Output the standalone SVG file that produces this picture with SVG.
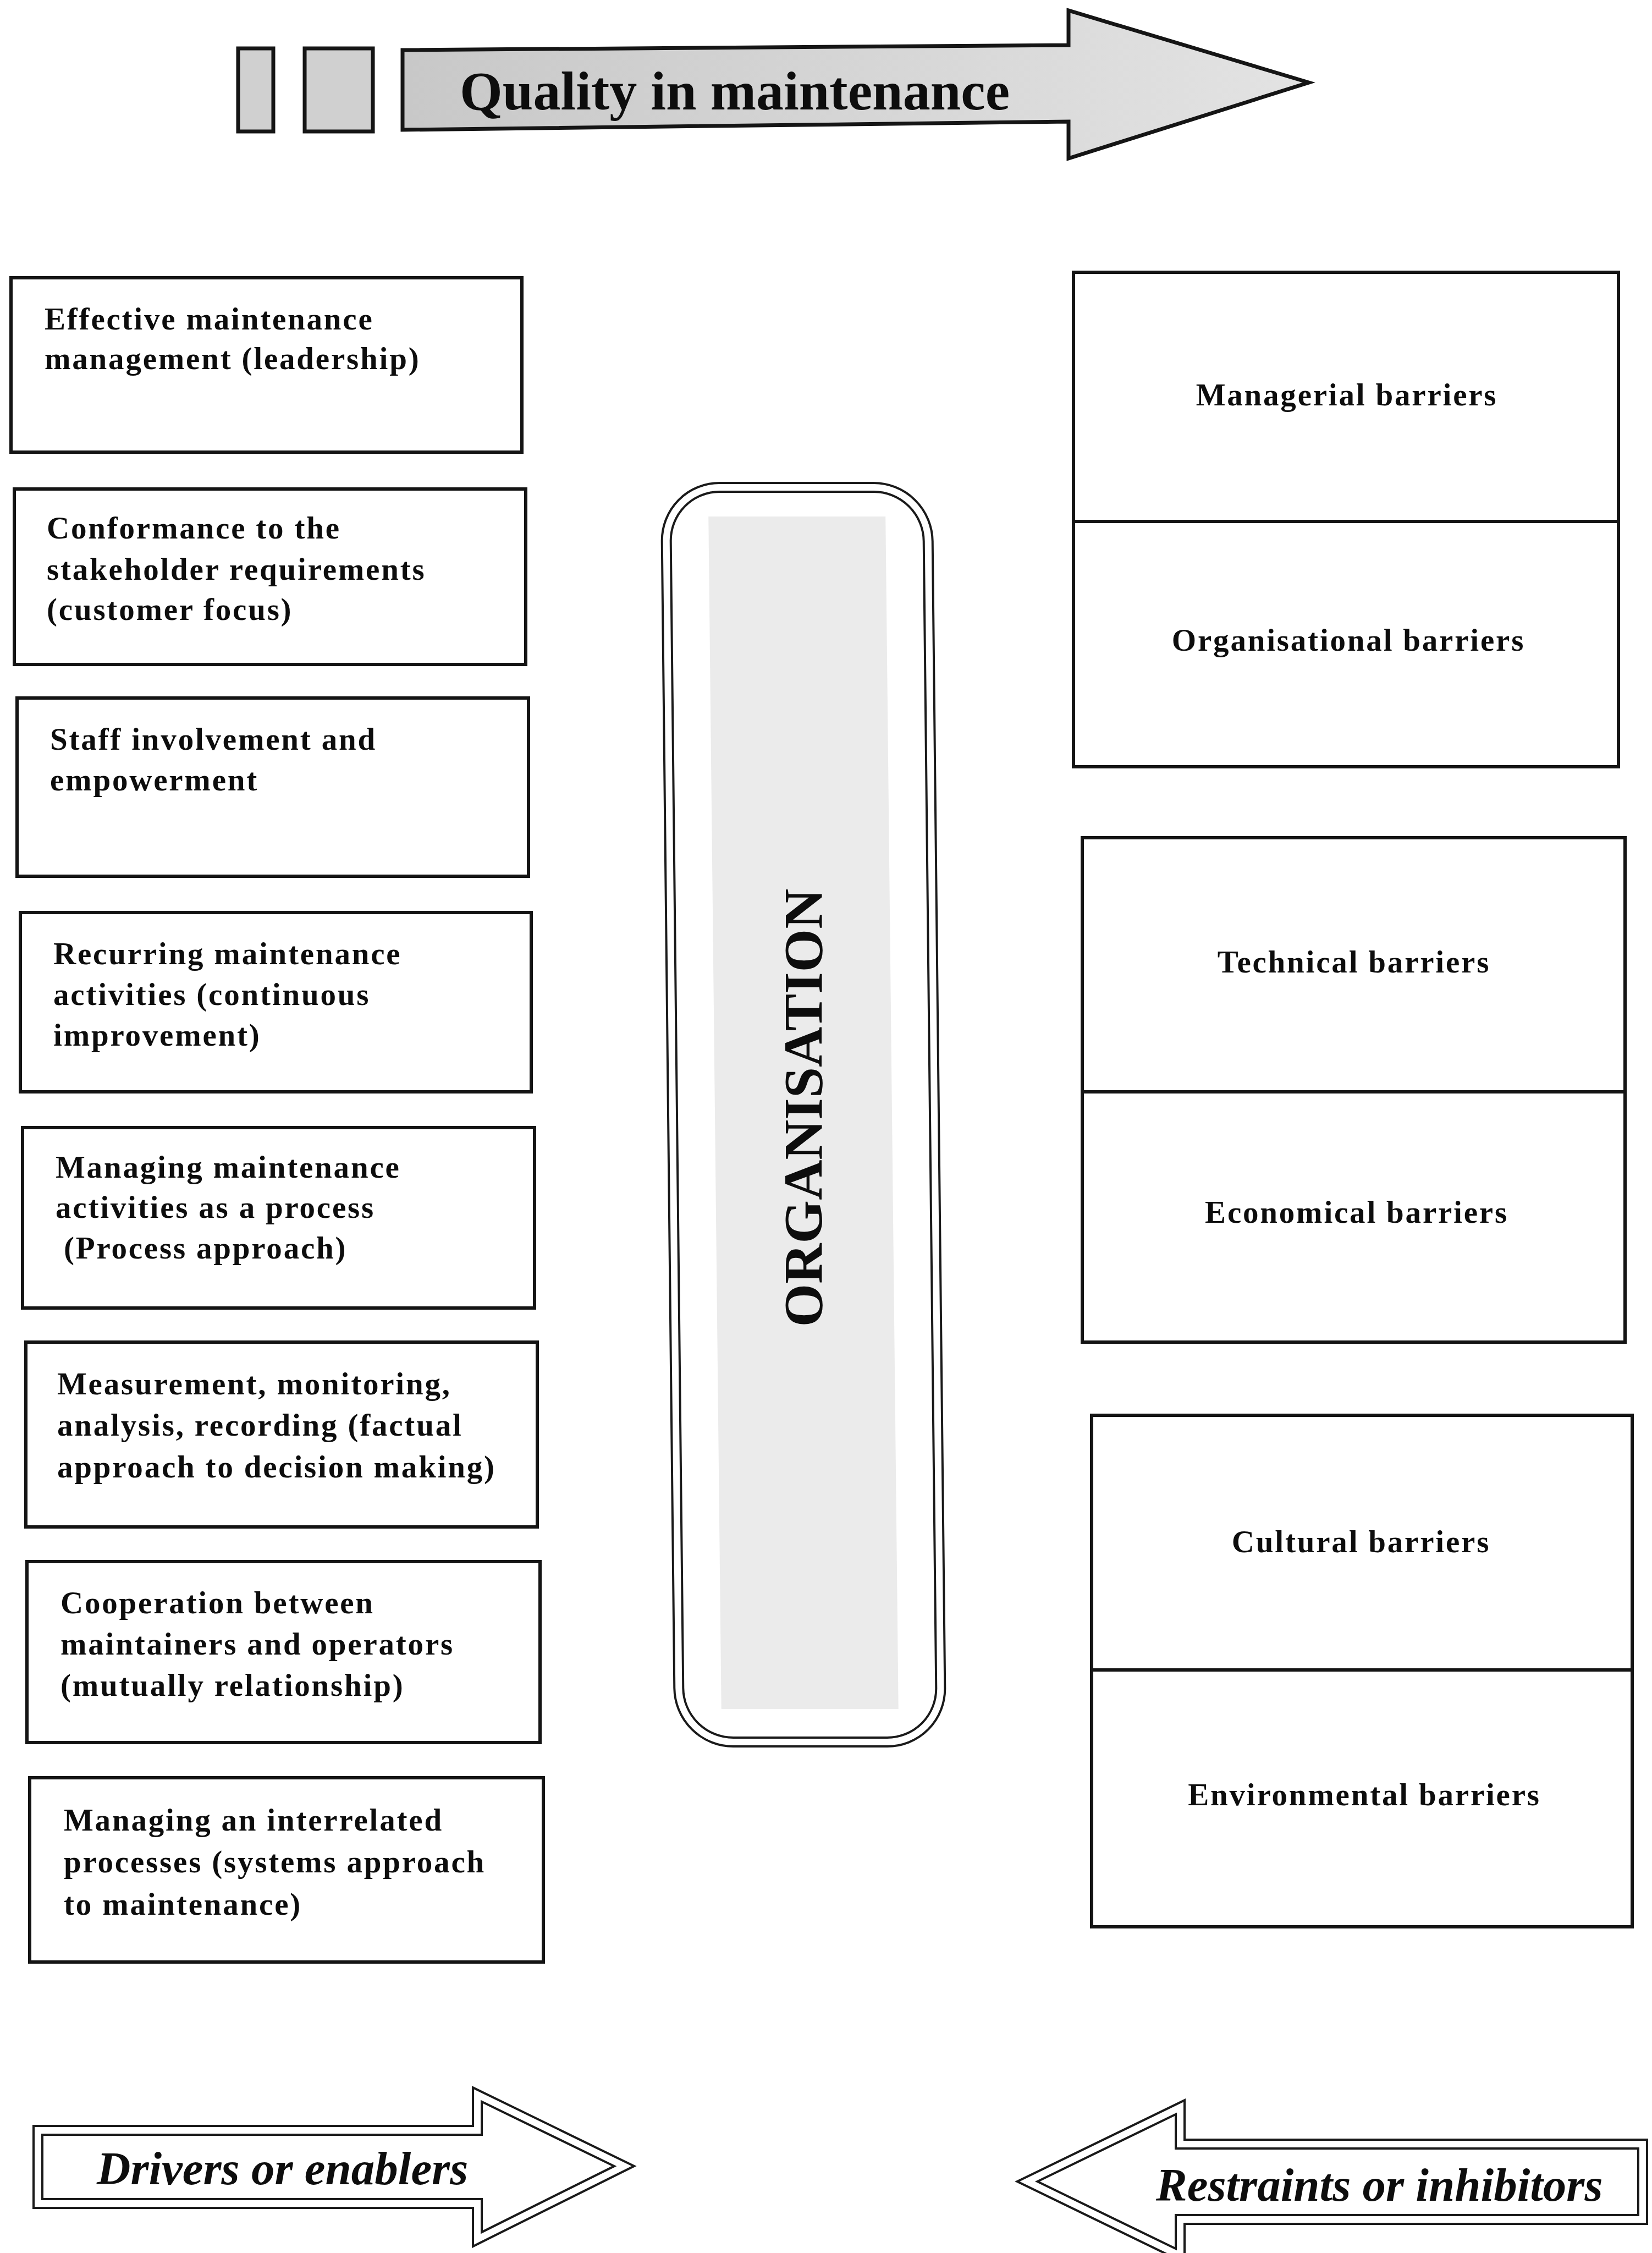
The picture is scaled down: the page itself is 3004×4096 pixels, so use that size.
<svg xmlns="http://www.w3.org/2000/svg" width="3004" height="4096" viewBox="0 0 3004 4096">
  <defs>
    <style>
      .box { fill: #ffffff; stroke: #141414; stroke-width: 6; }
      .rule { stroke: #141414; stroke-width: 6; }
      .lbl { font-family: "Liberation Serif", "Times New Roman", serif; font-weight: bold; font-size: 57px; letter-spacing: 2.8px; fill: #0d0d0d; }
      .mid { text-anchor: middle; }
      .dbl-out { fill: #ffffff; stroke: #1a1a1a; stroke-width: 20; stroke-linejoin: miter; }
      .dbl-in { fill: none; stroke: #ffffff; stroke-width: 12; stroke-linejoin: miter; }
      .banner { font-family: "Liberation Serif", "Times New Roman", serif; font-weight: bold; font-style: italic; font-size: 85px; fill: #0d0d0d; }
      .title { font-family: "Liberation Serif", "Times New Roman", serif; font-weight: bold; font-size: 100px; fill: #0d0d0d; }
      .grey-shape { stroke: #151515; stroke-width: 7; stroke-linejoin: miter; }
    </style>
    <linearGradient id="quality-fill" x1="0" y1="0" x2="1" y2="0">
      <stop offset="0" stop-color="#c8c8c8"/>
      <stop offset="1" stop-color="#e3e3e3"/>
    </linearGradient>
  </defs>

  <rect x="0" y="0" width="3004" height="4096" fill="#ffffff"/>

  <!-- Heading arrow: Quality in maintenance -->
  <g id="quality-arrow">
    <rect class="grey-shape" x="433" y="88" width="64" height="151" fill="#d0d0d0"/>
    <rect class="grey-shape" x="554" y="88" width="124" height="151" fill="#d0d0d0"/>
    <polygon class="grey-shape" fill="url(#quality-fill)" points="732,91 1943,82 1943,19 2380,150 1943,288 1943,221 732,236"/>
    <text class="title" x="836" y="199">Quality in maintenance</text>
  </g>

  <!-- Drivers / enablers column -->
  <g id="enabler-1">
    <rect class="box" x="20" y="505" width="929" height="317"/>
    <text class="lbl" x="81" y="599">Effective maintenance</text>
    <text class="lbl" x="81" y="671">management (leadership)</text>
  </g>
  <g id="enabler-2">
    <rect class="box" x="26" y="889" width="930" height="319"/>
    <text class="lbl" x="85" y="979">Conformance to the</text>
    <text class="lbl" x="85" y="1054">stakeholder requirements</text>
    <text class="lbl" x="85" y="1127">(customer focus)</text>
  </g>
  <g id="enabler-3">
    <rect class="box" x="31" y="1269" width="930" height="324"/>
    <text class="lbl" x="91" y="1363">Staff involvement and</text>
    <text class="lbl" x="91" y="1437">empowerment</text>
  </g>
  <g id="enabler-4">
    <rect class="box" x="37" y="1659" width="929" height="326"/>
    <text class="lbl" x="97" y="1753">Recurring maintenance</text>
    <text class="lbl" x="97" y="1827">activities (continuous</text>
    <text class="lbl" x="97" y="1901">improvement)</text>
  </g>
  <g id="enabler-5">
    <rect class="box" x="41" y="2050" width="931" height="328"/>
    <text class="lbl" x="101" y="2141">Managing maintenance</text>
    <text class="lbl" x="101" y="2214">activities as a process</text>
    <text class="lbl" x="116" y="2288">(Process approach)</text>
  </g>
  <g id="enabler-6">
    <rect class="box" x="47" y="2440" width="930" height="336"/>
    <text class="lbl" x="104" y="2535">Measurement, monitoring,</text>
    <text class="lbl" x="104" y="2610">analysis, recording (factual</text>
    <text class="lbl" x="104" y="2686">approach to decision making)</text>
  </g>
  <g id="enabler-7">
    <rect class="box" x="49" y="2839" width="933" height="329"/>
    <text class="lbl" x="110" y="2933">Cooperation between</text>
    <text class="lbl" x="110" y="3008">maintainers and operators</text>
    <text class="lbl" x="110" y="3083">(mutually relationship)</text>
  </g>
  <g id="enabler-8">
    <rect class="box" x="54" y="3232" width="934" height="335"/>
    <text class="lbl" x="116" y="3328">Managing an interrelated</text>
    <text class="lbl" x="116" y="3404">processes (systems approach</text>
    <text class="lbl" x="116" y="3481">to maintenance)</text>
  </g>

  <!-- Central organisation panel (slightly leaning frame) -->
  <g id="organisation">
    <g transform="translate(1461 2026) skewX(0.62) translate(-1461 -2026)">
      <rect class="dbl-out" x="1223" y="886" width="476" height="2281" rx="98" ry="98"/>
      <rect class="dbl-in" x="1223" y="886" width="476" height="2281" rx="98" ry="98"/>
      <rect x="1300" y="939" width="322" height="2168" fill="#ebebeb"/>
    </g>
    <text class="title" font-size="102" text-anchor="middle" textLength="797" lengthAdjust="spacingAndGlyphs" transform="translate(1494 2014) rotate(-90)">ORGANISATION</text>
  </g>

  <!-- Barriers column -->
  <g id="barriers-managerial-organisational">
    <rect class="box" x="1952" y="495" width="991" height="899"/>
    <line class="rule" x1="1952" y1="948" x2="2943" y2="948"/>
    <text class="lbl mid" x="2449" y="737">Managerial barriers</text>
    <text class="lbl mid" x="2452" y="1183">Organisational barriers</text>
  </g>
  <g id="barriers-technical-economical">
    <rect class="box" x="1968" y="1523" width="987" height="917"/>
    <line class="rule" x1="1968" y1="1985" x2="2955" y2="1985"/>
    <text class="lbl mid" x="2462" y="1768">Technical barriers</text>
    <text class="lbl mid" x="2467" y="2223">Economical barriers</text>
  </g>
  <g id="barriers-cultural-environmental">
    <rect class="box" x="1985" y="2573" width="983" height="930"/>
    <line class="rule" x1="1985" y1="3036" x2="2968" y2="3036"/>
    <text class="lbl mid" x="2475" y="2822">Cultural barriers</text>
    <text class="lbl mid" x="2481" y="3282">Environmental barriers</text>
  </g>

  <!-- Direction arrows along the bottom -->
  <g id="connectors">
    <g id="drivers-arrow">
      <polygon class="dbl-out" points="69,3873 868,3873 868,3808 1135,3938 868,4071 868,4006 69,4006"/>
      <polygon class="dbl-in" points="69,3873 868,3873 868,3808 1135,3938 868,4071 868,4006 69,4006"/>
      <text class="banner" x="176" y="3971">Drivers or enablers</text>
    </g>
    <g id="restraints-arrow">
      <polygon class="dbl-out" points="2987,3898 2146,3898 2146,3831 1868,3966 2146,4101 2146,4035 2987,4035"/>
      <polygon class="dbl-in" points="2987,3898 2146,3898 2146,3831 1868,3966 2146,4101 2146,4035 2987,4035"/>
      <text class="banner" x="2102" y="4001">Restraints or inhibitors</text>
    </g>
  </g>
</svg>
